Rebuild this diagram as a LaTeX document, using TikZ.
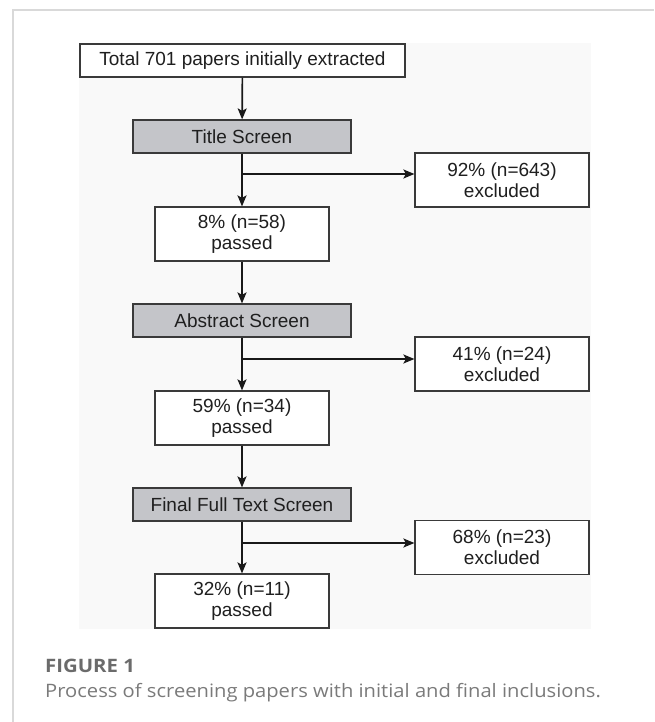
\documentclass[tikz,border=0pt]{standalone}
\usepackage{fontspec}
\setmainfont{Liberation Sans}
\newfontfamily\capfont{Open Sans}
\usetikzlibrary{arrows.meta,calc}
\definecolor{panelgray}{HTML}{F9F9F9}
\definecolor{screengray}{HTML}{C4C5C9}
\definecolor{edgegray}{HTML}{3A3A3A}
\definecolor{figlabel}{HTML}{6B6B6B}
\definecolor{captext}{HTML}{7A7A7A}
\definecolor{framegray}{HTML}{D9D9D9}
\begin{document}
\begin{tikzpicture}[x=1pt,y=-1pt,
  box/.style={draw=edgegray,line width=1.2pt,fill=white,inner sep=0pt,align=center,
    text=black!88,font=\fontsize{19}{21}\selectfont},
  screen/.style={box,fill=screengray,minimum width=218pt,minimum height=33pt},
  result/.style={box,minimum width=174pt,minimum height=54pt},
  flow/.style={line width=1.7pt,draw=black!90,-{Stealth[length=11pt,width=9pt,inset=2.5pt]}},
  caplabel/.style={anchor=base west,inner sep=0pt}]
\useasboundingbox (0,0) rectangle (654,722);
% frame lines
\draw[framegray,line width=1.5pt] (13,722) -- (13,10) -- (654,10);
% panel
\fill[panelgray] (79,43) rectangle (591,629);
% nodes
\node[box,minimum width=325pt,minimum height=33pt] (start) at (242.5,60.5) {Total 701 papers initially extracted};
\node[screen] (title) at (242,136.5) {Title Screen};
\node[result] (ex1) at (502,180) {92\% (n=643)\\excluded};
\node[result] (pass1) at (242,234) {8\% (n=58)\\passed};
\node[screen] (abs) at (242,320.5) {Abstract Screen};
\node[result] (ex2) at (502,364) {41\% (n=24)\\excluded};
\node[result] (pass2) at (242,418) {59\% (n=34)\\passed};
\node[screen] (full) at (242,504.5) {Final Full Text Screen};
\node[result] (ex3) at (502,547.5) {68\% (n=23)\\excluded};
\node[result] (pass3) at (242,601) {32\% (n=11)\\passed};
% branch points
\coordinate (b1) at (242,174);
\coordinate (b2) at (242,359);
\coordinate (b3) at (242,543);
% connectors
\draw[flow] (start) -- (title);
\draw[flow] (title) -- (pass1);
\draw[flow] (b1) -- (b1 -| ex1.west);
\draw[flow] (pass1) -- (abs);
\draw[flow] (abs) -- (pass2);
\draw[flow] (b2) -- (b2 -| ex2.west);
\draw[flow] (pass2) -- (full);
\draw[flow] (full) -- (pass3);
\draw[flow] (b3) -- (b3 -| ex3.west);
% caption
\node[caplabel,text=figlabel,font=\capfont\bfseries\fontsize{18.5}{20}\selectfont] (figl) at (45,672) {\scalebox{1.1}[1]{FIGURE 1}};
\node[caplabel,text=captext,font=\capfont\fontsize{18.5}{20}\selectfont] (capt) at (45,697) {\scalebox{1.09}[1]{Process of screening papers with initial and final inclusions.}};
\end{tikzpicture}
\end{document}
